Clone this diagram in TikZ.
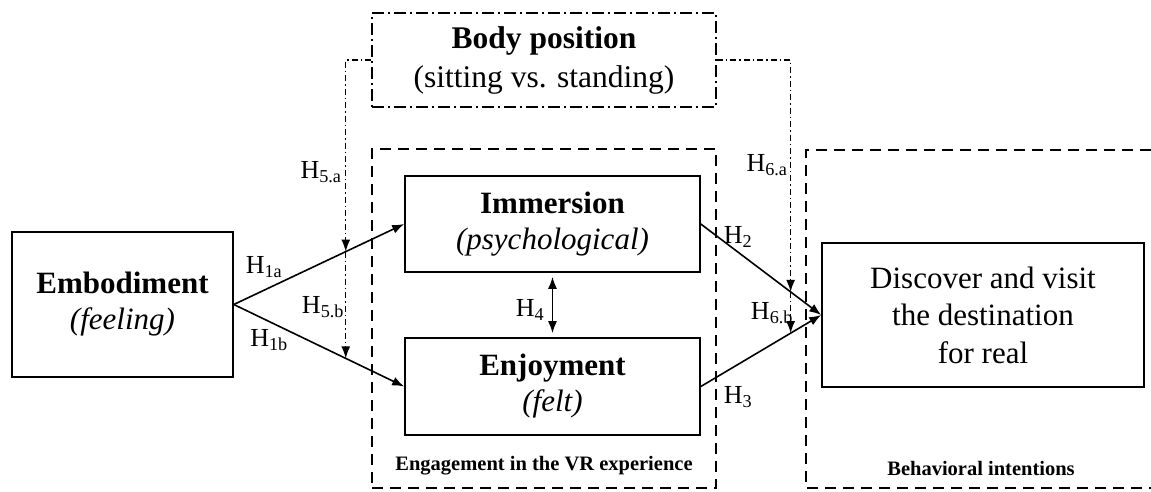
\documentclass[tikz,border=0pt]{standalone}
\usepackage{fontspec}
\setmainfont{Liberation Serif}
\usetikzlibrary{arrows.meta}
\tikzset{
    concept-box/.style = {draw, line width=1.6pt, rectangle, align=center, inner sep=0pt, font=\fontsize{31}{36}\selectfont},
    group-box/.style = {draw, line width=1.5pt, rectangle, dash pattern=on 11pt off 7pt},
    moderator-box/.style = {draw, line width=1.5pt, rectangle, align=center, inner sep=0pt, dash pattern=on 12pt off 4pt on 2pt off 4pt, font=\fontsize{31.5}{39}\selectfont},
    path-arrow/.style = {line width=1.6pt, -{Latex[length=12pt,width=9pt]}},
    moderator-arrow/.style = {line width=1.4pt, dash pattern=on 6pt off 3pt on 1.5pt off 3pt, -{Latex[length=12pt,width=9pt]}},
    hyp-label/.style = {inner sep=0pt, font=\fontsize{26}{28}\selectfont},
    group-title/.style = {inner sep=0pt, font=\fontsize{20.5}{23}\selectfont\bfseries},
}

\begin{document}
\begin{tikzpicture}[x=1pt, y=-1pt]
\useasboundingbox (0,0) rectangle (1151,491);

\node[group-box, minimum width=344pt, minimum height=339pt] (engagement) at (544,318.5) {};
\node[group-title] (engagement-title) at (544,466) {Engagement in the VR experience};
\draw[group-box] (1151,150) -- (806,150) -- (806,488) -- (1151,488);
\node[group-title] (intentions-title) at (981,468) {Behavioral intentions};

\node[moderator-box, minimum width=344pt, minimum height=94pt] (body) at (544,60) {\textbf{Body position}\\(sitting vs. standing)};
\node[concept-box, minimum width=221pt, minimum height=145pt] (embodiment) at (122.5,304.5) {\textbf{Embodiment}\\\textit{(feeling)}};
\node[concept-box, minimum width=295pt, minimum height=96pt] (immersion) at (552.5,224) {\textbf{Immersion}\\\textit{(psychological)}};
\node[concept-box, minimum width=295pt, minimum height=97pt] (enjoyment) at (552.5,386.5) {\textbf{Enjoyment}\\\textit{(felt)}};
\node[concept-box, minimum width=322pt, minimum height=144pt, font=\fontsize{31}{37.5}\selectfont] (destination) at (983,315) {Discover and visit\\the destination\\for real};

\draw[path-arrow] (embodiment.east) -- coordinate[pos=0.657] (h5a-point) (immersion.west);
\draw[path-arrow] (embodiment.east) -- coordinate[pos=0.657] (h5b-point) (enjoyment.west);
\draw[path-arrow] (immersion.east) -- coordinate[pos=0.746] (h6a-point) (destination.west);
\draw[path-arrow] (enjoyment.east) -- coordinate[pos=0.746] (h6b-point) (destination.west);
\draw[path-arrow, {Latex[length=12pt,width=9pt]}-{Latex[length=12pt,width=9pt]}, shorten <=4pt, shorten >=4pt] (immersion.south) -- (enjoyment.north);

\draw[moderator-arrow] (body.west) -| (h5a-point);
\draw[moderator-arrow] (h5a-point) -- (h5b-point);
\draw[moderator-arrow] (body.east) -| (h6a-point);
\draw[moderator-arrow] (h6a-point) -- (h6b-point);

\node[hyp-label] (h1a) at (264,267) {H\textsubscript{1a}};
\node[hyp-label] (h1b) at (269,340) {H\textsubscript{1b}};
\node[hyp-label] (h5a) at (321,172) {H\textsubscript{5.a}};
\node[hyp-label] (h5b) at (323,307) {H\textsubscript{5.b}};
\node[hyp-label] (h6a) at (767,165) {H\textsubscript{6.a}};
\node[hyp-label] (h6b) at (772,313) {H\textsubscript{6.b}};
\node[hyp-label] (h2) at (738,237) {H\textsubscript{2}};
\node[hyp-label] (h3) at (738,397) {H\textsubscript{3}};
\node[hyp-label] (h4) at (530,310) {H\textsubscript{4}};
\end{tikzpicture}
\end{document}
